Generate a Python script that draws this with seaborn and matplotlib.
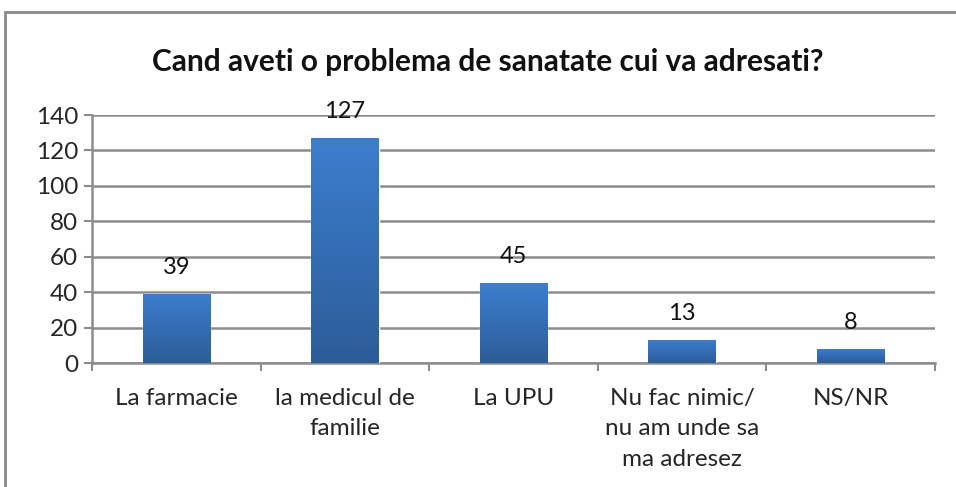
import numpy as np
import pandas as pd
import matplotlib
matplotlib.use("Agg")
import matplotlib.pyplot as plt
import seaborn as sns
from matplotlib.patches import Rectangle

categorii = ["La farmacie", "la medicul de\nfamilie", "La UPU",
             "Nu fac nimic/\nnu am unde sa\nma adresez", "NS/NR"]
valori = [39, 127, 45, 13, 8]
titlu = "Cand aveti o problema de sanatate cui va adresati?"

df = pd.DataFrame({"categorie": categorii, "valoare": valori})

sns.set_style("white")
plt.rcParams["font.family"] = ["Lato", "DejaVu Sans"]

fig = plt.figure(figsize=(9.56, 4.87), dpi=100)
ax = fig.add_axes([92 / 956, 1 - 363 / 487, (935 - 92) / 956, (363 - 115) / 487])

sns.barplot(data=df, x="categorie", y="valoare", color="#3470B8", width=0.4,
            ax=ax, zorder=3)

# gradient on bars (Excel style)
grad = np.linspace(0, 1, 256).reshape(-1, 1)
cmap = matplotlib.colors.LinearSegmentedColormap.from_list(
    "bleu", ["#2C5C99", "#3C7ECE"])
for bar in ax.patches:
    x0, y0 = bar.get_x(), bar.get_y()
    w, h = bar.get_width(), bar.get_height()
    im = ax.imshow(grad, cmap=cmap, aspect="auto", origin="lower",
                   extent=[x0, x0 + w, y0, y0 + h], zorder=4)
    im.set_clip_path(bar)
    ax.text(x0 + w / 2, h + 9, str(int(h)), ha="center", va="bottom",
            fontsize=17, color="#111111", zorder=5)

ax.set_xlim(-0.5, len(categorii) - 0.5)
ax.set_ylim(0, 140)
ax.set_yticks(range(0, 141, 20))
ax.yaxis.grid(True, color="#8C8C8C", linewidth=1.8, zorder=0)
ax.set_axisbelow(True)

ax.set_xlabel("")
ax.set_ylabel("")
ax.set_xticks(range(len(categorii)))
ax.set_xticklabels(categorii, fontsize=17.5, linespacing=1.55)
ax.set_xticks(np.arange(-0.5, len(categorii), 1), minor=True)
ax.tick_params(axis="x", which="major", length=0, pad=18)
ax.tick_params(axis="x", which="minor", length=6, width=1.5, color="#8C8C8C",
               direction="out", bottom=True)
ax.tick_params(axis="y", length=6, width=1.5, color="#8C8C8C", direction="out",
               left=True, labelsize=17.5, pad=4)
for lbl in ax.get_xticklabels():
    lbl.set_verticalalignment("top")

for s in ["top", "right"]:
    ax.spines[s].set_visible(False)
for s in ["left", "bottom"]:
    ax.spines[s].set_color("#8C8C8C")
    ax.spines[s].set_linewidth(1.8)

fig.text(488 / 956, 1 - 62 / 487, titlu, ha="center", va="center",
         fontsize=21.5, fontweight="bold", color="#111111")

fig.patches.append(Rectangle((5 / 956, -0.05), 1.0, 1 - 12 / 487 + 0.05,
                             transform=fig.transFigure, fill=False,
                             edgecolor="#8A8A8A", linewidth=2))

fig.savefig("out.png", dpi=100)
